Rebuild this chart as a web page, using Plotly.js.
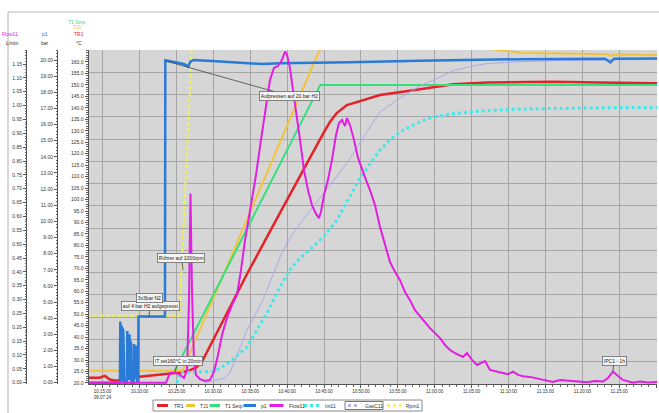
<!DOCTYPE html>
<html><head><meta charset="utf-8">
<script src="https://cdn.plot.ly/plotly-3.0.1.min.js"></script>
<style>html,body{margin:0;padding:0;background:#fff;}#chart{width:659px;height:413px;}</style>
</head><body><div id="chart"></div>
<script>
// time axis: minutes after 10:00:00 on 08.07.24
const tickMinutes = [15,20,25,30,35,40,45,50,55,60,65,70,75,80,85,90];
const tickLabels = ['10:15:00<br>08.07.24','10:20:00','10:25:00','10:30:00','10:35:00','10:40:00','10:45:00','10:50:00','10:55:00','11:00:00','11:05:00','11:10:00','11:15:00','11:20:00','11:25:00','11:30:00'];
const tempTicks = [20,25,30,35,40,45,50,55,60,65,70,75,80,85,90,95,100,105,110,115,120,125,130,135,140,145,150,155,160];
const pressTicks = [0,1,2,3,4,5,6,7,8,9,10,11,12,13,14,15,16,17,18,19,20];
const flowTicks = [0,0.05,0.10,0.15,0.20,0.25,0.30,0.35,0.40,0.45,0.50,0.55,0.60,0.65,0.70,0.75,0.80,0.85,0.90,0.95,1.00,1.05,1.10,1.15];

// TR1 (°C)
const tTR1 = [13.0,14.6,15.3,16.0,16.5,17.9,19.0,21.4,23.5,25.5,26.8,27.7,28.5,29.3,30.0,34.5,39.0,43.6,44.9,45.8,46.7,48.1,50.3,52.6,58.0,62.5,67.1,76.0,82.4,90.2];
const vTR1 = [22.3,22.3,23.1,21.5,21.1,21.2,22.4,23.2,23.9,24.6,25.5,26.8,29.5,34.5,39.0,67.1,94.0,121.6,128.9,133.8,137.6,141.2,143.4,145.6,148.1,150.3,151.1,151.4,151.1,150.7];
// TJ1 (°C)
const tTJ1 = [13.0,25.8,44.2,45.0,47.0,55.0,62.0,68.0,71.6,78.0,83.5,83.8,84.2,90.2];
const vTJ1 = [25.3,25.3,163.8,168.5,171.0,171.0,169.0,165.4,164.0,163.7,163.4,162.6,163.3,163.0];
// T1 Setp (°C)
const tSetp = [24.8,44.5,90.2];
const vSetp = [25.5,150.0,150.0];
// p1 (bar)
const tP1 = [13.0,17.35,17.40,17.45,17.50,17.55,17.60,17.65,17.70,17.75,17.80,17.85,17.90,17.95,
  18.30,18.35,18.40,18.45,18.50,18.55,18.60,18.65,18.70,18.75,18.80,18.85,18.90,
  19.20,19.25,19.30,19.35,19.40,19.45,19.50,19.55,19.60,19.65,19.70,
  19.82,19.86,23.45,23.5,26.0,26.6,26.9,27.3,30.46,34.97,36.7,39.0,43.5,48.5,58.0,71.6,83.1,83.8,84.3,90.2];
const vP1 = [0.0,0.0,3.8,0.2,3.6,0.4,3.5,0.1,3.4,0.3,3.3,0.2,3.0,0.0,
  0.0,3.2,0.3,3.0,0.2,2.9,0.4,3.0,0.2,2.7,0.3,2.5,0.0,
  0.0,2.4,0.2,2.3,0.4,2.2,0.3,2.3,0.2,2.0,0.0,
  0.05,4.1,4.1,19.98,19.75,19.6,19.9,20.0,19.92,19.8,19.75,19.8,19.85,19.86,19.95,20.05,20.08,19.85,20.08,20.1];
// Flow11 (L/min)
const tFlow = [13.0,23.59,24.13,24.81,25.49,26.03,26.44,26.71,26.91,27.11,27.38,27.66,28.20,28.88,29.55,30.09,30.64,31.18,31.86,32.53,33.21,33.75,34.30,34.97,35.79,36.46,37.14,37.68,38.22,38.77,39.31,39.72,39.99,40.39,40.80,41.21,41.75,42.29,42.83,43.37,43.92,44.32,44.59,45.0,45.54,46.08,46.63,47.03,47.44,47.85,48.12,48.52,49.07,49.61,50.15,50.69,51.23,51.91,52.59,53.27,53.94,54.62,55.30,55.98,56.65,57.33,58.01,58.69,59.36,60.04,60.72,61.40,62.07,62.75,63.83,64.38,65.05,65.73,66.82,67.49,68.44,69.25,69.93,70.61,71.29,71.96,72.91,73.86,74.95,76.03,76.98,78.33,79.42,80.64,81.72,82.80,83.48,84.16,84.84,85.51,86.87,87.82,88.90,90.2];
const vFlow = [0,0,0.035,0.037,0.028,0.017,0.046,0.30,0.683,0.335,0.082,0.028,0.013,0.006,0.01,0.039,0.10,0.172,0.234,0.28,0.317,0.406,0.514,0.623,0.75,0.876,0.995,1.092,1.136,1.143,1.165,1.195,1.183,1.136,1.057,0.984,0.876,0.767,0.695,0.641,0.609,0.594,0.616,0.677,0.732,0.804,0.894,0.937,0.948,0.926,0.955,0.93,0.876,0.811,0.768,0.732,0.695,0.641,0.562,0.497,0.436,0.40,0.37,0.327,0.298,0.262,0.24,0.219,0.197,0.179,0.161,0.136,0.118,0.107,0.093,0.107,0.082,0.064,0.078,0.046,0.039,0.035,0.031,0.04,0.028,0.023,0.021,0.016,0.01,0.003,0.01,0.006,0.003,0.0015,0.006,0.004,0.017,0.04,0.024,0.01,0,0.004,0.001,0.003];
// Int11
const tInt = [25.08,25.49,28.20,30.23,30.91,32.26,34.57,37.28,39.04,40.39,41.75,43.51,45.14,46.77,47.85,48.94,49.89,50.83,52.59,53.94,55.30,57.33,59.36,62.07,66.14,71.56,78.33,85.11,90.2];
const vInt = [20.0,24.6,24.8,25.2,26.5,29.2,35.7,50.5,61.9,69.3,74.5,79.3,84.5,91.1,97.6,104.2,109.4,113.7,121.6,126.0,129.5,132.9,135.6,137.3,138.6,139.5,139.9,140.1,140.1];
// GasC11
const tGas = [28.88,31.59,32.26,34.57,36.73,39.04,39.99,41.07,43.51,45.81,48.12,50.56,52.59,55.30,58.01,60.72,62.48,64.78,67.09,71.56,76.03,82.4,90.2];
const vGas = [20.0,22.2,24.5,43.1,56.2,74.9,81.1,86.5,96.8,106.3,115.9,128.2,138.2,144.3,149.5,153.4,156.1,158.0,159.3,160.1,160.6,160.9,161.1];
// Rpm1
const tRpm = [13.0,25.4,39.1,90.2];
const vRpm = [49.3,49.3,1000,1000];

const FONT = 'Liberation Sans, Arial, sans-serif';
const W = 659, H = 413, ML = 0, MR = 2, MT = 50, MB = 29;
const PW = W - ML - MR, PH = H - MT - MB;
const px = p => (p - ML) / PW;
const py = p => (H - MB - p) / PH;

function tr(name, x, y, yaxis, color, width, dash) {
  return {type:'scatter', mode:'lines', name, x, y, yaxis, hoverinfo:'skip', showlegend:false,
    line:{color, width, dash: dash || 'solid'}};
}
const traces = [
  {type:'scatter', mode:'lines', name:'grid', x:[null], y:[null], yaxis:'y4', hoverinfo:'skip', showlegend:false},
  tr('TR1', tTR1, vTR1, 'y', '#e3222a', 2.5),
  tr('TJ1', tTJ1, vTJ1, 'y', '#f0c43c', 2),
  tr('T1 Setp', tSetp, vSetp, 'y', '#33e07a', 2),
  tr('Int11', tInt, vInt, 'y', '#44e6ea', 3, 'dot'),
  tr('GasC11', tGas, vGas, 'y', '#a9a9e8', 1),
  tr('Rpm1', tRpm, vRpm, 'y', '#f5f53c', 2, 'dot'),
  tr('p1', tP1, vP1, 'y2', '#2a7ad8', 2.5),
  tr('Flow11', tFlow, vFlow, 'y3', '#e21ee2', 2)
];

const axCommon = {showgrid:false, zeroline:false, showline:true, linecolor:'#555', linewidth:1,
  ticks:'outside', ticklen:3, tickcolor:'#555', tickwidth:1, tickfont:{family:FONT, size:5, color:'#333'}};

const layout = {
  width: W, height: H, margin:{l:ML, r:MR, t:MT, b:MB}, autosize:false,
  paper_bgcolor:'#ffffff', plot_bgcolor:'#d6d6d6', showlegend:false,
  font:{family:FONT, size:5, color:'#333'},
  xaxis: {domain:[88.5/PW, 1], range:[13.09, 90.12], tickmode:'array', tickvals:tickMinutes, ticktext:tickLabels,
    showgrid:true, gridcolor:'#a5a5a5', gridwidth:1, zeroline:false, showline:true, linecolor:'#555',
    ticks:'outside', ticklen:3, tickcolor:'#555', tickfont:{family:FONT, size:4.5, color:'#333'},
    minor:{tickmode:'linear', tick0:0, dtick:1, ticks:'outside', ticklen:2, tickcolor:'#666'}},
  yaxis: Object.assign({}, axCommon, {range:[19.56,165.22], tickmode:'array', tickvals:tempTicks, tickformat:'.1f',
    minor:{tickmode:'linear', tick0:0, dtick:1, ticks:'outside', ticklen:1.5, tickcolor:'#666'}}),
  yaxis2: Object.assign({}, axCommon, {overlaying:'y', anchor:'free', position:57/PW, side:'left',
    range:[-0.08,20.62], tickmode:'array', tickvals:pressTicks, tickformat:'.2f',
    minor:{tickmode:'linear', tick0:0, dtick:0.2, ticks:'outside', ticklen:1.5, tickcolor:'#666'}}),
  yaxis3: Object.assign({}, axCommon, {overlaying:'y', anchor:'free', position:26/PW, side:'left',
    range:[-0.0047,1.2006], tickmode:'array', tickvals:flowTicks, tickformat:'.2f',
    minor:{tickmode:'linear', tick0:0, dtick:0.01, ticks:'outside', ticklen:1.5, tickcolor:'#666'}}),
  yaxis4: {overlaying:'y', anchor:'x', side:'right', range:[0,15], tickmode:'linear', tick0:0, dtick:1,
    showgrid:true, gridcolor:'#a5a5a5', gridwidth:1, showticklabels:false, ticks:'', showline:false, zeroline:false},
  shapes: [], annotations: []
};

// frame
layout.shapes.push({type:'line', xref:'paper', yref:'paper', x0:px(8), x1:px(659), y0:py(12), y1:py(12), line:{color:'#b4b4b4', width:1}});
layout.shapes.push({type:'line', xref:'paper', yref:'paper', x0:px(8), x1:px(8), y0:py(12), y1:py(413), line:{color:'#b4b4b4', width:1}});

// axis headers
const hdr = [['T1 Setp','#3ddc80',76.5,21.5],['TJ1','#e8c21e',77.5,26.5],['TR1','#e3222a',78.5,33.5],['°C','#333',78.5,42.5],
  ['Flow11','#e21ee2',10,33.5],['L/min','#333',11.5,42.5],['p1','#2a7ad8',44.5,33.5],['bar','#333',44.5,42.5]];
hdr.forEach(h => layout.annotations.push({xref:'paper', yref:'paper', x:px(h[2]), y:py(h[3]), text:h[0], showarrow:false,
  xanchor:'center', yanchor:'middle', font:{family:FONT, size:5, color:h[1]}}));

// legend (drawn manually to match compact original)
layout.shapes.push({type:'rect', xref:'paper', yref:'paper', x0:px(153), x1:px(422), y0:py(411), y1:py(400), fillcolor:'#ffffff', line:{color:'#8a8a8a', width:1}});
layout.shapes.push({type:'rect', xref:'paper', yref:'paper', x0:px(345), x1:px(383), y0:py(409.5), y1:py(401.5), line:{color:'#555', width:0.8}});
const leg = [['TR1','#e3222a',157,168,171.5,'solid',3],['TJ1','#f0c43c',186,195,197.5,'solid',3],['T1 Setp','#33e07a',209.5,220,223,'solid',3],
  ['p1','#2a7ad8',243.5,256,259,'solid',3],['Flow11','#e21ee2',269.5,283.5,286.5,'solid',3],['Int11','#44e6ea',304,319.5,322.5,'dot',3],
  ['GasC11','#a9a9e8',348,360,362.5,'dot',2.5],['Rpm1','#f5f53c',387,401.5,403.5,'dot',2.5]];
leg.forEach(l => {
  layout.shapes.push({type:'line', xref:'paper', yref:'paper', x0:px(l[2]), x1:px(l[3]), y0:py(405.5), y1:py(405.5), line:{color:l[1], width:l[6], dash:l[5]}});
  layout.annotations.push({xref:'paper', yref:'paper', x:px(l[4]), y:py(405.5), text:l[0], showarrow:false, xanchor:'left', yanchor:'middle', font:{family:FONT, size:5, color:'#333'}});
});

// chart notes
const noteStyle = {bgcolor:'#f3f3f3', bordercolor:'#6a6a6a', borderwidth:0.8, borderpad:1, font:{family:FONT, size:5, color:'#222'},
  arrowcolor:'#444', arrowwidth:0.8, arrowhead:0, standoff:0, xref:'x', yref:'y'};
const notes = [
  {text:'Aufpressen auf 20 bar H2', x:23.59, y:160.4, showarrow:true, ax:124, ay:35},
  {text:'Rührer auf 1000rpm', x:25.89, y:69.3, showarrow:true, ax:-1.5, ay:-12},
  {text:'auf 4 bar H2 aufgepresst', x:21.29, y:49.0, showarrow:true, ax:1, ay:-10},
  {text:'3x3bar N2', x:21.29, y:57.1, showarrow:false},
  {text:'IT set160°C in 20min', x:24.81, y:24.8, showarrow:true, ax:3, ay:-10.5},
  {text:'IPC1 - 1h', x:84.16, y:25.2, showarrow:true, ax:1, ay:-10.5}
];
notes.forEach(n => layout.annotations.push(Object.assign({}, noteStyle, n)));

Plotly.newPlot('chart', traces, layout, {staticPlot:true, displayModeBar:false});
</script></body></html>
